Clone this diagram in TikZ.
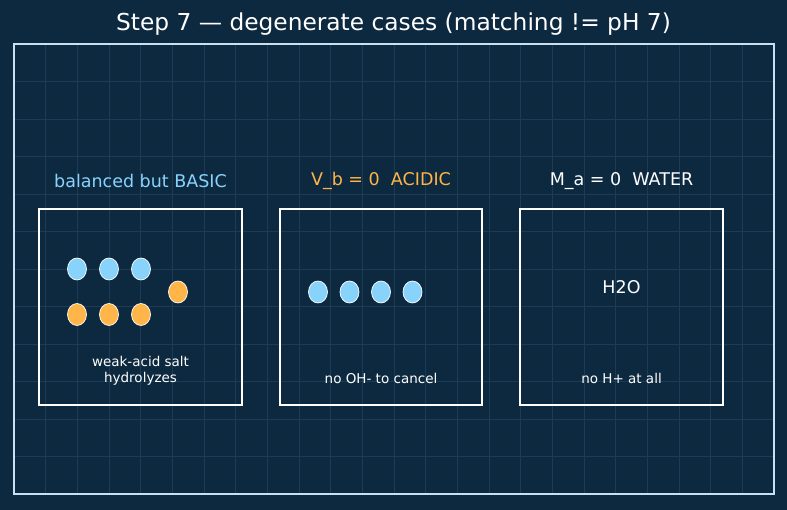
\documentclass[tikz,border=0pt]{standalone}
\usepackage{fontspec}
\setmainfont{DejaVu Sans}
\usetikzlibrary{shapes.geometric}
\definecolor{bg}{HTML}{0D2940}
\definecolor{gridc}{HTML}{1C3C55}
\definecolor{frame}{HTML}{C8E0F2}
\definecolor{ionblue}{HTML}{88D3FB}
\definecolor{ionorange}{HTML}{FFB547}
\tikzset{
  panel/.style={draw=white, line width=1.6pt},
  ionb/.style={ellipse, draw=white, line width=0.7pt, fill=ionblue, minimum width=19pt, minimum height=22pt, inner sep=0pt},
  iono/.style={ellipse, draw=white, line width=0.7pt, fill=ionorange, minimum width=19pt, minimum height=22pt, inner sep=0pt},
  lbl/.style={font=\fontsize{17.5}{21}\selectfont, inner sep=0pt},
  note/.style={font=\fontsize{13.5}{16.5}\selectfont, text=white, inner sep=0pt, align=center}
}
\begin{document}
\begin{tikzpicture}[x=1pt,y=-1pt]
\useasboundingbox (0,0) rectangle (787,510);
\fill[bg] (0,0) rectangle (787,510);
% grid
\foreach \k in {1,...,23} \draw[gridc, line width=0.6pt] ({14+31.6667*\k},44) -- ({14+31.6667*\k},494);
\foreach \k in {1,...,11} \draw[gridc, line width=0.6pt] (14,{44+37.5*\k}) -- (774,{44+37.5*\k});
\draw[frame, line width=1.5pt] (14,44) rectangle (774,494);
% title
\node[font=\fontsize{23.3}{28}\selectfont, text=white, inner sep=0pt] (title) at (393.5,24) {Step 7 — degenerate cases (matching != pH 7)};
% panels
\draw[panel] (39,209) rectangle (242,405);
\draw[panel] (280,209) rectangle (482,405);
\draw[panel] (520,209) rectangle (723,405);
\node[lbl, text=ionblue] (l1) at (140.5,181) {balanced but BASIC};
\node[lbl, text=ionorange] (l2) at (381,181) {V\_b = 0\ \ ACIDIC};
\node[lbl, text=white] (l3) at (621.5,181) {M\_a = 0\ \ WATER};
% panel 1 ions
\node[ionb] (b1) at (77,269) {};
\node[ionb] (b2) at (109,269) {};
\node[ionb] (b3) at (141,269) {};
\node[iono] (o1) at (77,314.5) {};
\node[iono] (o2) at (109,314.5) {};
\node[iono] (o3) at (141,314.5) {};
\node[iono] (o4) at (178,292) {};
\node[note] (n1) at (140.5,371) {weak-acid salt\\hydrolyzes};
% panel 2 ions
\node[ionb] (c1) at (318,292) {};
\node[ionb] (c2) at (349.5,292) {};
\node[ionb] (c3) at (381,292) {};
\node[ionb] (c4) at (412.5,292) {};
\node[note] (n2) at (381,378.5) {no OH- to cancel};
% panel 3
\node[lbl, text=white] (h2o) at (621.5,287) {H2O};
\node[note] (n3) at (621.5,378.5) {no H+ at all};
\end{tikzpicture}
\end{document}
